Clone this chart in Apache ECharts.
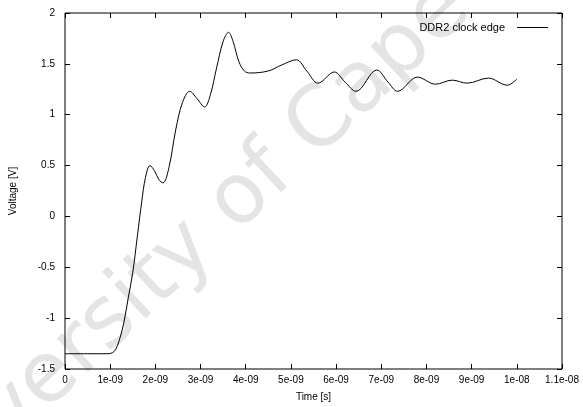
<!DOCTYPE html>
<html>
<head>
<meta charset="utf-8">
<script src="https://cdn.jsdelivr.net/npm/echarts@6/dist/echarts.min.js"></script>
<style>
  html, body { margin: 0; padding: 0; background: #fff; }
  #chart { width: 583px; height: 407px; }
</style>
</head>
<body>
<div id="chart"></div>
<script>
// time in ns, voltage in V
const timeNs = [0, 0.5, 0.95, 1.05, 1.12, 1.2, 1.3, 1.4, 1.5, 1.6, 1.7, 1.78, 1.88, 1.98, 2.08, 2.17,
  2.3, 2.45, 2.6, 2.76, 2.92, 3.09, 3.22, 3.35, 3.5, 3.62, 3.72, 3.85, 3.97, 4.09, 4.5, 4.8, 5.12,
  5.35, 5.6, 5.96, 6.2, 6.44, 6.9, 7.15, 7.36, 7.8, 8.2, 8.57, 8.9, 9.37, 9.79, 10.0];
const voltage = [-1.35, -1.35, -1.35, -1.34, -1.31, -1.22, -1.05, -0.8, -0.55, -0.2, 0.15, 0.38, 0.5, 0.45, 0.36, 0.33,
  0.48, 0.85, 1.12, 1.23, 1.16, 1.076, 1.2, 1.45, 1.72, 1.81, 1.72, 1.52, 1.43, 1.41, 1.43, 1.49, 1.54,
  1.43, 1.31, 1.42, 1.32, 1.23, 1.44, 1.32, 1.23, 1.37, 1.30, 1.34, 1.31, 1.36, 1.29, 1.35];
const xTickLabels = ['0', '1e-09', '2e-09', '3e-09', '4e-09', '5e-09', '6e-09', '7e-09', '8e-09', '9e-09', '1e-08', '1.1e-08'];
const seriesName = 'DDR2 clock edge';

const font = 'Liberation Sans, Arial, sans-serif';
const chart = echarts.init(document.getElementById('chart'));

const tickStyle = { show: true, inside: true, length: 5, lineStyle: { color: '#000', width: 1 } };
const hiddenLine = { show: false, onZero: false };

chart.setOption({
  animation: false,
  grid: { left: 63, right: 21, top: 13, bottom: 38, show: true, borderColor: '#000', borderWidth: 1 },
  legend: {
    right: 30, top: 17,
    itemWidth: 31, itemHeight: 1, itemGap: 0,
    align: 'right',
    icon: 'rect',
    textStyle: { fontFamily: font, fontSize: 11, color: '#000', padding: [0, 7, 0, 0] },
    data: [seriesName]
  },
  xAxis: [{
    type: 'value', min: 0, max: 11, interval: 1,
    name: 'Time [s]', nameLocation: 'middle', nameGap: 23,
    nameTextStyle: { fontFamily: font, fontSize: 10, color: '#000' },
    axisLine: hiddenLine,
    axisTick: tickStyle,
    splitLine: { show: false },
    axisLabel: { fontFamily: font, fontSize: 10, color: '#000', margin: 6,
      formatter: v => xTickLabels[Math.round(v)] }
  }, {
    type: 'value', min: 0, max: 11, interval: 1, position: 'top',
    axisLine: hiddenLine,
    axisTick: tickStyle, axisLabel: { show: false }, splitLine: { show: false }
  }],
  yAxis: [{
    type: 'value', min: -1.5, max: 2, interval: 0.5,
    name: 'Voltage [V]', nameLocation: 'middle', nameGap: 47,
    nameTextStyle: { fontFamily: font, fontSize: 10, color: '#000' },
    axisLine: hiddenLine,
    axisTick: tickStyle,
    splitLine: { show: false },
    axisLabel: { fontFamily: font, fontSize: 10, color: '#000', margin: 10 }
  }, {
    type: 'value', min: -1.5, max: 2, interval: 0.5, position: 'right',
    axisLine: hiddenLine,
    axisTick: tickStyle, axisLabel: { show: false }, splitLine: { show: false }
  }],
  series: [{
    name: seriesName,
    type: 'line',
    data: timeNs.map((t, i) => [t, voltage[i]]),
    smooth: 0.35,
    showSymbol: false,
    lineStyle: { color: '#000', width: 1 },
    itemStyle: { color: '#000' },
    z: 3
  }],
  graphic: [{
    type: 'text',
    x: 262, y: 180,
    rotation: 43 * Math.PI / 180,
    z: -1,
    silent: true,
    style: {
      text: 'University of Cape Town',
      font: '84px "DejaVu Sans", sans-serif',
      fill: '#e4e4e4',
      align: 'center',
      verticalAlign: 'middle'
    }
  }]
});
</script>
</body>
</html>
